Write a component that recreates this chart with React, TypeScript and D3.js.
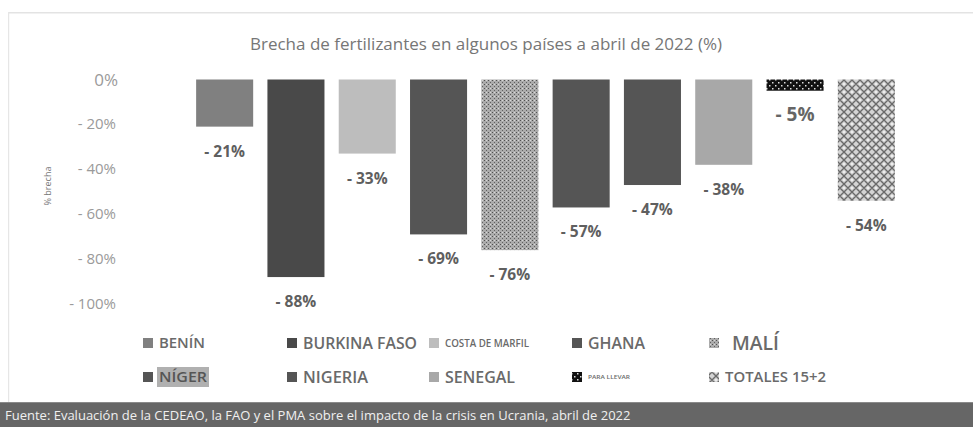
import React from "react";
import * as d3 from "d3";

const categories = ["BENÍN", "BURKINA FASO", "COSTA DE MARFIL", "GHANA", "MALÍ", "NÍGER", "NIGERIA", "SENEGAL", "PARA LLEVAR", "TOTALES 15+2"];
const values = [-21, -88, -33, -69, -76, -57, -47, -38, -5, -54];
const yTicks = [0, -20, -40, -60, -80, -100];
const fills = ["#808080", "#494949", "#bdbdbd", "#555555", "url(#pMali)", "#555555", "#555555", "#a8a8a8", "url(#pPara)", "url(#pTot)"];
const title = "Brecha de fertilizantes en algunos países a abril de 2022 (%)";
const source = "Fuente: Evaluación de la CEDEAO, la FAO y el PMA sobre el impacto de la crisis en Ucrania, abril de 2022";

const W = 973, H = 427;
const FONT = "'Open Sans', 'Noto Sans', sans-serif";

const legendCols = [143, 287, 429, 572, 709];
const legendRows = [343, 377];
const legendSizes = [14.5, 15.5, 10, 16, 19.5, 15, 16.5, 16, 5.5, 15.2];
const legendTextWidths = [46, 114, 84, 57, 47, 48, 65, 70, 42, 101];

export default function App() {
  const x = d3.scaleBand<string>().domain(categories).range([189, 902]).paddingInner(0.2).paddingOuter(0.1);
  const y = d3.scaleLinear().domain([-100, 0]).range([304, 79.5]);
  const fmt = (v: number) => (v === 0 ? "0%" : "- " + Math.abs(v) + "%");

  return (
    <svg width={W} height={H} style={{ position: "absolute", left: 0, top: 0, background: "#fff" }} fontFamily={FONT}>
      <defs>
        <pattern id="pMali" width="4" height="4" patternUnits="userSpaceOnUse">
          <rect width="4" height="4" fill="#ababab" />
          <rect x="0" y="0" width="1" height="1" fill="#505050" />
          <rect x="2" y="2" width="1" height="1" fill="#606060" />
          <rect x="2" y="0" width="1" height="1" fill="#d8d8d8" />
        </pattern>
        <pattern id="pPara" width="6" height="6" patternUnits="userSpaceOnUse">
          <rect width="6" height="6" fill="#111" />
          <rect x="1" y="1" width="1.5" height="1.5" fill="#ddd" />
          <rect x="4" y="4" width="1.5" height="1.5" fill="#ddd" />
        </pattern>
        <pattern id="pTot" width="8" height="8" patternUnits="userSpaceOnUse">
          <rect width="8" height="8" fill="#d4d4d4" />
          <path d="M0,4 L4,0 L8,4 L4,8 Z" fill="none" stroke="#6a6a6a" strokeWidth="1.4" />
          <circle cx="4" cy="4" r="1.1" fill="#f4f4f4" />
        </pattern>
      </defs>

      <rect x={8} y={12} width={W - 8} height={1.5} fill="#e3e3e3" />
      <rect x={8} y={12} width={1.2} height={390} fill="#e6e6e6" />

      <text x={486} y={50} textAnchor="middle" fontSize={17} fill="#767676">{title}</text>

      <text transform="translate(51,186) rotate(-90)" textAnchor="middle" fontSize={9} fill="#777">% brecha</text>

      {yTicks.map((t) => (
        <text key={t} x={t === 0 ? 118 : 116} y={y(t) + (t === 0 ? 6 : 5)} textAnchor="end" fontSize={t === 0 ? 17 : 15} fill="#9a9a9a">
          {fmt(t)}
        </text>
      ))}

      {categories.map((c, i) => {
        const v = values[i];
        const top = y(0);
        const bottom = y(v);
        return (
          <g key={c}>
            <rect x={x(c)!} y={top} width={x.bandwidth()} height={bottom - top} fill={fills[i]} />
            <text x={x(c)! + x.bandwidth() / 2} y={bottom + 30} textAnchor="middle" fontSize={i === 8 ? 19 : 15.5} fontWeight={700} fill={i === 8 ? "#666" : "#5f5f5f"}>
              {fmt(v)}
            </text>
          </g>
        );
      })}

      {categories.map((c, i) => {
        const row = i < 5 ? 0 : 1;
        const col = i % 5;
        const lx = legendCols[col];
        const ly = legendRows[row];
        const fs = legendSizes[i];
        const tx = lx + (i === 4 ? 23 : 16);
        const tw = legendTextWidths[i];
        return (
          <g key={"l" + c}>
            <rect x={lx} y={ly - 5} width={10} height={10} fill={fills[i]} />
            {i === 5 && <rect x={tx - 2} y={ly - 10} width={tw + 4} height={20} fill="#b0b0b0" />}
            <text x={tx} y={ly + fs * 0.36} fontSize={fs} fontWeight={600} fill={i === 5 ? "#555" : "#6a6a6a"} textLength={tw} lengthAdjust="spacingAndGlyphs">
              {c}
            </text>
          </g>
        );
      })}

      <rect x={0} y={402} width={W} height={H - 402} fill="#666666" />
      <rect x={0} y={402} width={W} height={1} fill="#8a8a8a" />
      <text x={5} y={420} fontSize={13} fill="#f0f0f0">{source}</text>
    </svg>
  );
}
